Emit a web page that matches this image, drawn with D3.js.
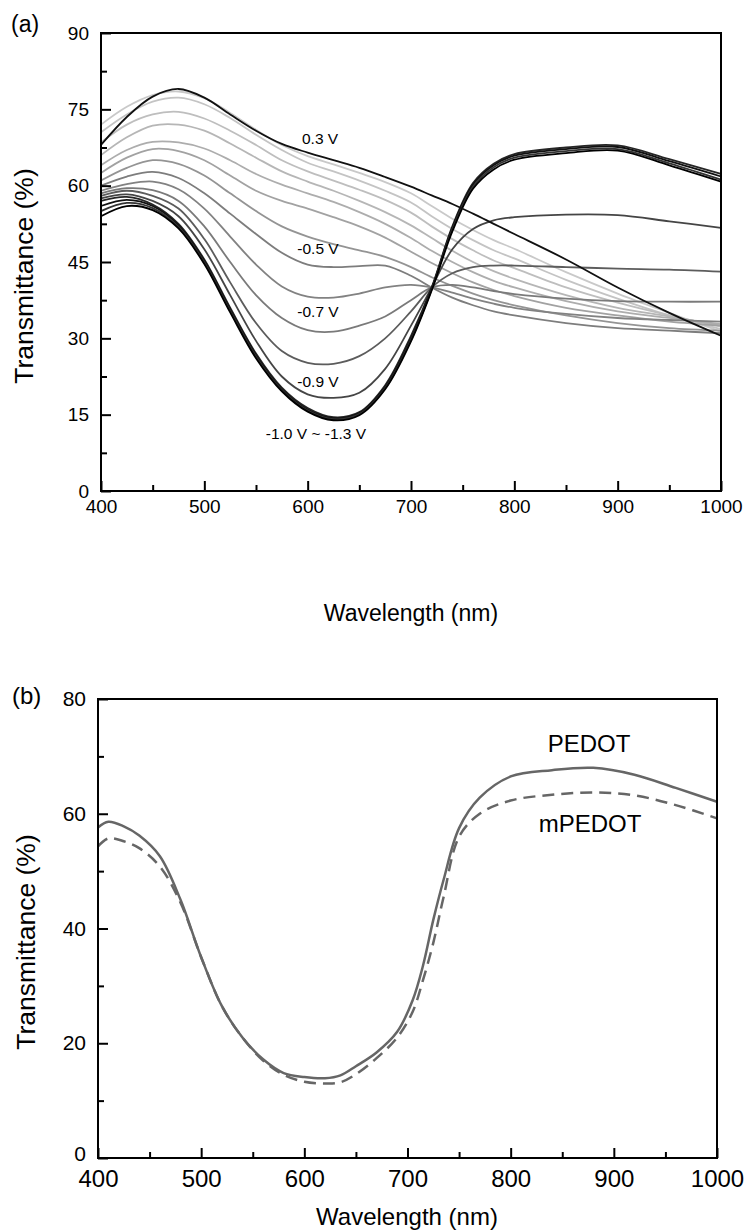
<!DOCTYPE html>
<html>
<head>
<meta charset="utf-8">
<script src="https://cdn.jsdelivr.net/npm/d3@7"></script>
<style>
  body { margin: 0; background: #fff; }
  svg text { font-family: "Liberation Sans", Arial, sans-serif; fill: #000; }
</style>
</head>
<body>
<div id="chart"></div>
<script>
// ---- panel (a): spectra at different potentials ----
const wavelengthsA = [400, 425, 450, 475, 500, 525, 550, 575, 600, 625, 650, 675, 700, 720, 740, 760, 780, 800, 850, 900, 950, 1000];

const tP03 = [68, 73.5, 77.5, 79, 77.3, 74, 70.8, 68.2, 66.5, 65, 63.5, 61.7, 59.8, 58.1, 56.4, 54.5, 52.5, 50.5, 45.5, 40, 35, 30.5];
const tP02 = [72, 75.5, 77.8, 78.5, 77.2, 74.3, 71, 68, 65.8, 64.2, 62.5, 60.7, 58.5, 56, 53.5, 51.3, 49.3, 47.6, 43, 38.8, 35, 31.3];
const tP01 = [70.5, 74, 76.5, 77.3, 76, 73.3, 70, 67, 64.5, 62.8, 61, 59, 56.7, 54, 51.5, 49.3, 47.3, 45.7, 41.5, 37.8, 34.5, 31.8];
const tP00 = [68.5, 72, 74, 74.5, 73.2, 70.8, 68, 65, 62.8, 61, 59.2, 57.2, 54.7, 52, 49.5, 47.3, 45.3, 43.8, 40, 37, 34.5, 32.3];
const tM01 = [66, 69.5, 71.8, 72, 70.8, 68.3, 65.5, 62.8, 60.8, 59, 57, 54.8, 52.2, 49.7, 47.2, 45, 43.2, 41.7, 38.5, 36, 34.3, 32.5];
const tM02 = [64, 67, 68.6, 68.5, 67.3, 65, 62.3, 60.2, 58.5, 56.8, 54.8, 52.5, 49.7, 47.2, 45, 43, 41.3, 40, 37.3, 35.3, 34, 32.8];
const tM03 = [62.5, 65.5, 67.2, 66.8, 65, 62, 59, 57, 55.5, 53.8, 52, 49.8, 47, 44.8, 42.8, 41, 39.5, 38.3, 36, 34.5, 33.3, 32.5];
const tM04 = [61, 63.5, 65, 64.3, 62, 58.5, 55, 52, 50, 48.5, 47.3, 46, 44, 42, 40.3, 38.8, 37.5, 36.5, 34.5, 33, 32, 31.5];
const tM05 = [60, 61.8, 62.7, 61.5, 58.5, 54.5, 50.5, 46.8, 44.5, 44, 44.2, 44.3, 42.3, 40, 38, 36.5, 35.3, 34.5, 33, 32, 31.5, 31];
const tM06 = [59, 60.3, 60.8, 59.3, 55.5, 50, 44.5, 40.2, 38.2, 38, 38.8, 40, 40.5, 40, 39, 37.8, 36.8, 36, 34.8, 34, 33.6, 33.3];
const tM07 = [58.5, 59.5, 59.1, 57, 52, 45, 38.5, 34, 31.6, 31.3, 32.5, 34.3, 37.5, 40, 40.5, 40, 39.3, 38.7, 37.8, 37.3, 37.2, 37.2];
const tM08 = [58, 59, 58, 55.5, 49.5, 41, 33, 27.5, 25.2, 25, 26.5, 30, 35.3, 40, 42.8, 44, 44.3, 44.3, 44, 43.7, 43.5, 43.1];
const tM09 = [57.5, 58.3, 57, 54, 47.5, 38.5, 29.5, 22.5, 19, 18.3, 19.3, 24, 32.5, 40, 47.5, 51.5, 53.2, 53.8, 54.3, 54.2, 53, 51.7];
const tM10 = [57, 57.8, 56.3, 52.5, 45.5, 36, 27, 20.3, 16.3, 14.5, 15.5, 20.8, 30.5, 40, 52, 60.5, 64.3, 66.2, 67.5, 67.9, 65.2, 62.3];
const tM11 = [56, 57.2, 56, 52.2, 45.2, 35.7, 26.7, 20, 16, 14.3, 15.3, 20.5, 30, 39.8, 51.7, 60.2, 64, 65.9, 67.2, 67.6, 64.8, 61.8];
const tM12 = [55, 56.6, 55.6, 51.9, 44.9, 35.4, 26.4, 19.8, 15.8, 14.1, 15.1, 20.2, 29.7, 39.6, 51.4, 59.8, 63.6, 65.5, 66.8, 67.2, 64.4, 61.2];
const tM13 = [54, 56, 55.2, 51.6, 44.6, 35.1, 26.1, 19.6, 15.6, 13.9, 14.9, 20, 29.4, 39.4, 51, 59.4, 63.2, 65.1, 66.4, 66.9, 64, 60.8];

const seriesA = [
  { v: "0.2", values: tP02 }, { v: "0.1", values: tP01 }, { v: "0.0", values: tP00 },
  { v: "-0.1", values: tM01 }, { v: "-0.2", values: tM02 }, { v: "-0.3", values: tM03 },
  { v: "-0.4", values: tM04 }, { v: "-0.5", values: tM05 }, { v: "-0.6", values: tM06 },
  { v: "-0.7", values: tM07 }, { v: "-0.8", values: tM08 }, { v: "-0.9", values: tM09 },
  { v: "-1.0", values: tM10 }, { v: "-1.1", values: tM11 }, { v: "-1.2", values: tM12 },
  { v: "-1.3", values: tM13 }, { v: "0.3", values: tP03 }
];
const colorsA = {
  "0.3": "#111", "0.2": "#c9c9c9", "0.1": "#c4c4c4", "0.0": "#bebebe", "-0.1": "#b6b6b6",
  "-0.2": "#adadad", "-0.3": "#a2a2a2", "-0.4": "#949494", "-0.5": "#7d7d7d", "-0.6": "#828282",
  "-0.7": "#7a7a7a", "-0.8": "#5c5c5c", "-0.9": "#454545", "-1.0": "#262626", "-1.1": "#111",
  "-1.2": "#333", "-1.3": "#000"
};
const labelsA = [
  { text: "0.3 V", w: 612, t: 68.2 },
  { text: "-0.5 V", w: 610, t: 46.5 },
  { text: "-0.7 V", w: 610, t: 34.1 },
  { text: "-0.9 V", w: 610, t: 20.4 },
  { text: "-1.0 V ~ -1.3 V", w: 608, t: 10.3 }
];

// ---- panel (b): PEDOT vs mPEDOT ----
const wavelengthsB = [400, 410, 425, 440, 460, 480, 500, 520, 540, 560, 580, 600, 620, 635, 650, 670, 690, 705, 715, 725, 735, 750, 770, 800, 840, 880, 920, 960, 1000];
const pedot = [57.6, 58.6, 57.8, 56.2, 52.6, 45, 35, 26.5, 21, 17.2, 14.8, 14.1, 13.9, 14.4, 16, 18.4, 22, 27.5, 33.5, 41.5, 48.5, 57.5, 62.8, 66.5, 67.6, 68, 66.8, 64.5, 62.1];
const mpedot = [54.3, 55.7, 55.2, 54, 50.8, 44.5, 35, 26.5, 21, 17, 14.5, 13.3, 13, 13.2, 14.6, 17.4, 21, 25.5, 31, 37.5, 45.5, 56, 60, 62.3, 63.3, 63.7, 63.2, 61.5, 59.2];

const xTicks = [400, 500, 600, 700, 800, 900, 1000];
const xMinor = [450, 550, 650, 750, 850, 950];
const yTicksA = [0, 15, 30, 45, 60, 75, 90];
const yMinorA = [7.5, 22.5, 37.5, 52.5, 67.5, 82.5];
const yTicksB = [0, 20, 40, 60, 80];
const yMinorB = [10, 30, 50, 70];

const svg = d3.select("#chart").append("svg")
  .attr("width", 744)
  .attr("height", 1231);

function frame(g, x, y, xt, xm, yt, ym, o) {
  // minor and major ticks, pointing inward
  g.append("g").attr("transform", `translate(0,${y.range()[0]})`)
    .call(d3.axisBottom(x).tickValues(xm).tickSize(-o.minor).tickFormat(""))
    .call(a => a.select(".domain").remove());
  g.append("g").attr("transform", `translate(0,${y.range()[0]})`)
    .call(d3.axisBottom(x).tickValues(xt).tickSize(-o.major).tickPadding(o.xPad).tickFormat(d3.format("d")))
    .call(a => a.select(".domain").remove())
    .call(a => a.selectAll("text").attr("font-size", o.xFont).attr("dy", "0.71em"));
  g.append("g").attr("transform", `translate(${x.range()[0]},0)`)
    .call(d3.axisLeft(y).tickValues(ym).tickSize(-o.minor).tickFormat(""))
    .call(a => a.select(".domain").remove());
  g.append("g").attr("transform", `translate(${x.range()[0]},0)`)
    .call(d3.axisLeft(y).tickValues(yt).tickSize(-o.major).tickPadding(o.yPad).tickFormat(d3.format("d")))
    .call(a => a.select(".domain").remove())
    .call(a => a.selectAll("text").attr("font-size", o.yFont))
    // the zero label sits a little higher, clear of the first x label
    .call(a => a.selectAll("text").filter(d => d === 0).attr("dy", o.zeroDy));
  g.selectAll(".tick line").attr("stroke", "#000").attr("stroke-width", 2);
  g.selectAll(".tick text").attr("fill", "#000").attr("font-family", "'Liberation Sans', Arial, sans-serif");
  g.append("rect")
    .attr("x", x.range()[0]).attr("y", y.range()[1])
    .attr("width", x.range()[1] - x.range()[0])
    .attr("height", y.range()[0] - y.range()[1])
    .attr("fill", "none").attr("stroke", "#000").attr("stroke-width", 2);
}

// ===== panel (a) =====
const gA = svg.append("g");
const xA = d3.scaleLinear().domain([400, 1000]).range([101, 721]);
const yA = d3.scaleLinear().domain([0, 90]).range([491, 33]);

const lineA = d3.line()
  .x((d, i) => xA(wavelengthsA[i]))
  .y(d => yA(d))
  .curve(d3.curveCatmullRom.alpha(0.5));

gA.append("g").selectAll("path")
  .data(seriesA)
  .join("path")
  .attr("d", d => lineA(d.values))
  .attr("fill", "none")
  .attr("stroke", d => colorsA[d.v])
  .attr("stroke-width", 1.8);

frame(gA, xA, yA, xTicks, xMinor, yTicksA, yMinorA,
  { major: 10, minor: 6, xPad: 9, yPad: 12, xFont: 19, yFont: 19, zeroDy: "0.32em" });

gA.append("g").selectAll("text")
  .data(labelsA)
  .join("text")
  .attr("x", d => xA(d.w))
  .attr("y", d => yA(d.t))
  .attr("text-anchor", "middle")
  .attr("font-size", 15.5)
  .text(d => d.text);

gA.append("text").attr("x", 11).attr("y", 32).attr("font-size", 23).text("(a)");
gA.append("text").attr("x", 411).attr("y", 621).attr("text-anchor", "middle")
  .attr("font-size", 23).text("Wavelength (nm)");
gA.append("text").attr("transform", "translate(33,276) rotate(-90)")
  .attr("text-anchor", "middle").attr("font-size", 26.5).text("Transmittance (%)");

// ===== panel (b) =====
const gB = svg.append("g");
const xB = d3.scaleLinear().domain([400, 1000]).range([98, 717]);
const yB = d3.scaleLinear().domain([0, 80]).range([1158, 699]);

const lineB = d3.line()
  .x((d, i) => xB(wavelengthsB[i]))
  .y(d => yB(d))
  .curve(d3.curveCatmullRom.alpha(0.5));

gB.append("path").attr("d", lineB(mpedot))
  .attr("fill", "none").attr("stroke", "#666").attr("stroke-width", 2.5)
  .attr("stroke-dasharray", "12,7");
gB.append("path").attr("d", lineB(pedot))
  .attr("fill", "none").attr("stroke", "#666").attr("stroke-width", 2.5);

frame(gB, xB, yB, xTicks, xMinor, yTicksB, yMinorB,
  { major: 10, minor: 6, xPad: 12, yPad: 12, xFont: 24, yFont: 21, zeroDy: "0.1em" });

gB.append("text").attr("x", 589).attr("y", 752).attr("text-anchor", "middle")
  .attr("font-size", 24).text("PEDOT");
gB.append("text").attr("x", 590).attr("y", 832).attr("text-anchor", "middle")
  .attr("font-size", 24).text("mPEDOT");

gB.append("text").attr("x", 12).attr("y", 704).attr("font-size", 24).text("(b)");
gB.append("text").attr("x", 407).attr("y", 1225).attr("text-anchor", "middle")
  .attr("font-size", 24).text("Wavelength (nm)");
gB.append("text").attr("transform", "translate(35,942) rotate(-90)")
  .attr("text-anchor", "middle").attr("font-size", 26.5).text("Transmittance (%)");
</script>
</body>
</html>
